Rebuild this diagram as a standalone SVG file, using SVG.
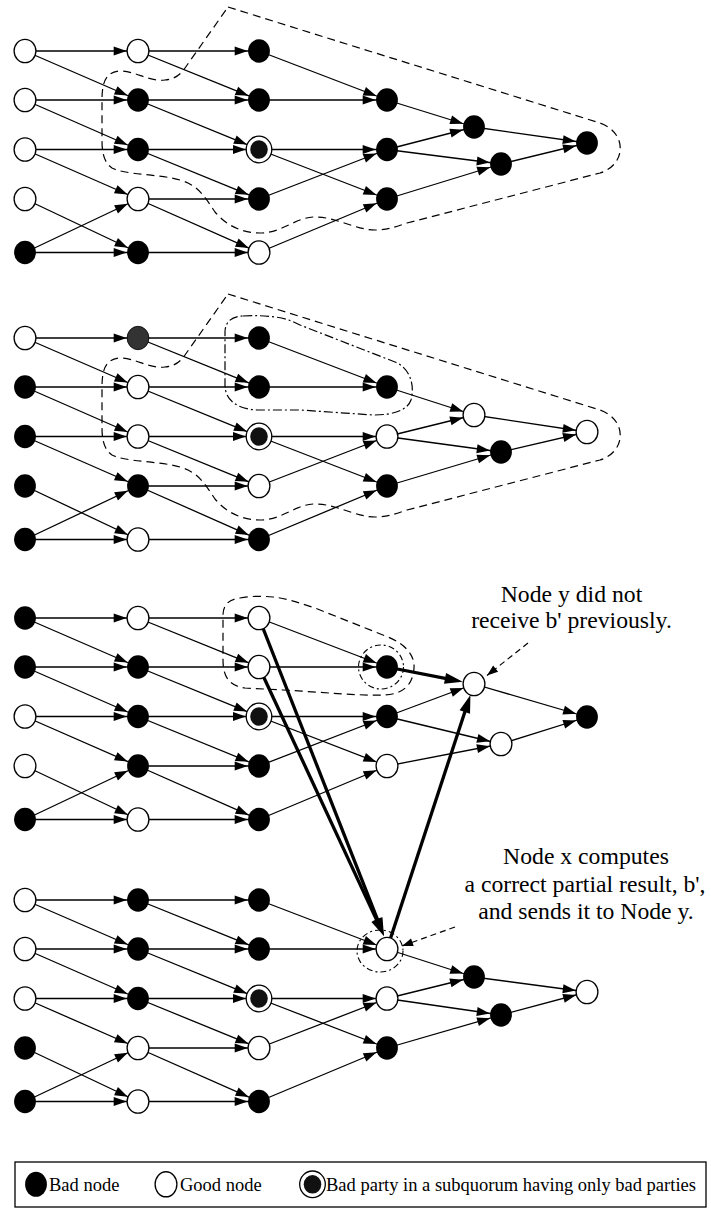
<svg xmlns="http://www.w3.org/2000/svg" width="711" height="1209" viewBox="0 0 711 1209">
<style>
.e{stroke:#000;stroke-width:1.3;fill:none;marker-end:url(#ah)}
.e .ed{marker-end:url(#ahd)}
.t{stroke:#000;stroke-width:3.3;fill:none;marker-end:url(#aht)}
.dash{stroke:#000;stroke-width:1.2;fill:none;stroke-dasharray:8 5}
.dd{stroke:#000;stroke-width:1.2;fill:none;stroke-dasharray:9 3 2 3}
.ring{stroke:#000;stroke-width:1.1;fill:none;stroke-dasharray:6 3 2 3}
.note{stroke:#000;stroke-width:1.2;fill:none;stroke-dasharray:6 4;marker-end:url(#ahn)}
text{font-family:"Liberation Serif","Times New Roman",serif;fill:#000}
.ann{font-size:23.7px;text-anchor:middle}
.leg{font-size:18.5px}
</style>
<defs>
  <marker id="ah" markerUnits="userSpaceOnUse" markerWidth="40" markerHeight="12" refX="24.3" refY="4.5" orient="auto" overflow="visible"><path d="M0,0 L13,4.5 L0,9 Z" fill="#000"/></marker>
  <marker id="ahd" markerUnits="userSpaceOnUse" markerWidth="40" markerHeight="12" refX="26" refY="4.5" orient="auto" overflow="visible"><path d="M0,0 L13,4.5 L0,9 Z" fill="#000"/></marker>
  <marker id="aht" markerUnits="userSpaceOnUse" markerWidth="20" markerHeight="12" refX="8" refY="5.5" orient="auto" overflow="visible"><path d="M0,0 L18,5.5 L0,11 Z" fill="#000"/></marker>
  <marker id="ahn" markerUnits="userSpaceOnUse" markerWidth="12" markerHeight="10" refX="11" refY="4" orient="auto" overflow="visible"><path d="M0,0 L11,4 L0,8 Z" fill="#000"/></marker>
  <ellipse id="nb" rx="10.9" ry="11.7" fill="#000"/>
  <ellipse id="nw" rx="10.9" ry="11.7" fill="#fff" stroke="#000" stroke-width="1.3"/>
  <ellipse id="ng" rx="10.9" ry="11.7" fill="#333" stroke="#000" stroke-width="0.8"/>
  <g id="nd"><ellipse rx="12.8" ry="13.3" fill="#fff" stroke="#000" stroke-width="1.3"/><ellipse rx="8.8" ry="9.3" fill="#111"/></g>
</defs>
<rect width="711" height="1209" fill="#fff"/>

<!-- subquorum outlines -->
<g id="regions">
  <path id="region-1" class="dash" d="M228,7 L600,123 C628,133 626,165 600,173 L407,223 C395,227 388,230 375,230 C355,230 335,216 313,217 C295,218 282,233 260,233 C240,233 225,224 215,212 C205,197 198,185 180,180 C160,174 125,175 112,168 C103,162 102,150 102,140 L102,100 C102,78 108,72 120,71 C135,71 150,82 165,80 C175,79 180,75 185,68 Z"/>
  <path id="region-2" class="dash" transform="translate(0,287)" d="M228,7 L600,123 C628,133 626,165 600,173 L407,223 C395,227 388,230 375,230 C355,230 335,216 313,217 C295,218 282,233 260,233 C240,233 225,224 215,212 C205,197 198,185 180,180 C160,174 125,175 112,168 C103,162 102,150 102,140 L102,100 C102,78 108,72 120,71 C135,71 150,82 165,80 C175,79 180,75 185,68 Z"/>
  <path id="region-2b" class="dd" d="M243,316 C255,315 265,316 275,317 C285,318 292,321 300,325 L395,362 C410,368 415,385 411,400 C407,411 392,415 373,415 L300,410 L257,410 C237,409 225,400 225,385 L225,332 C225,322 232,316 243,316 Z"/>
  <path id="region-3" class="dash" d="M240,598 C250,596 262,596 273,597 C285,598 300,603 315,608 L388,637 C405,644 415,655 414,668 C413,684 404,694 385,695 C360,696 320,692 283,690 L245,688 C230,686 223,678 223,660 L223,615 C223,604 230,599 240,598 Z"/>
  <ellipse id="ring-3" class="ring" cx="381" cy="667" rx="22.5" ry="22"/>
  <ellipse id="ring-x" class="ring" cx="380" cy="951" rx="23" ry="21"/>
</g>

<g id="connectors">
  <g id="edges-1" class="e" transform="translate(0,51)">
    <line x1="25" y1="0" x2="138" y2="0"/>
    <line x1="25" y1="0" x2="138" y2="49"/>
    <line x1="25" y1="49" x2="138" y2="49"/>
    <line x1="25" y1="49" x2="138" y2="98.5"/>
    <line x1="25" y1="98.5" x2="138" y2="98.5"/>
    <line x1="25" y1="98.5" x2="138" y2="148"/>
    <line x1="25" y1="148" x2="138" y2="201.5"/>
    <line x1="25" y1="201.5" x2="138" y2="148"/>
    <line x1="25" y1="201.5" x2="138" y2="201.5"/>
    <line x1="138" y1="0" x2="259" y2="0"/>
    <line x1="138" y1="0" x2="259" y2="49"/>
    <line x1="138" y1="49" x2="259" y2="49"/>
    <line class="ed" x1="138" y1="49" x2="259" y2="98.5"/>
    <line class="ed" x1="138" y1="98.5" x2="259" y2="98.5"/>
    <line x1="138" y1="98.5" x2="259" y2="148"/>
    <line x1="138" y1="148" x2="259" y2="148"/>
    <line x1="138" y1="148" x2="259" y2="201.5"/>
    <line x1="138" y1="201.5" x2="259" y2="201.5"/>
    <line x1="259" y1="0" x2="387" y2="49"/>
    <line x1="259" y1="49" x2="387" y2="49"/>
    <line x1="259" y1="98.5" x2="387" y2="98.5"/>
    <line x1="259" y1="98.5" x2="387" y2="148"/>
    <line x1="259" y1="148" x2="387" y2="98.5"/>
    <line x1="259" y1="201.5" x2="387" y2="148"/>
    <line x1="387" y1="49" x2="474" y2="76"/>
    <line x1="387" y1="98.5" x2="474" y2="76"/>
    <line x1="387" y1="98.5" x2="501" y2="113"/>
    <line x1="387" y1="148" x2="501" y2="113"/>
    <line x1="474" y1="76" x2="587" y2="92"/>
    <line x1="501" y1="113" x2="587" y2="92"/>
  </g>
  <g id="edges-2" class="e" transform="translate(0,338)">
    <line x1="25" y1="0" x2="138" y2="0"/>
    <line x1="25" y1="0" x2="138" y2="49"/>
    <line x1="25" y1="49" x2="138" y2="49"/>
    <line x1="25" y1="49" x2="138" y2="98.5"/>
    <line x1="25" y1="98.5" x2="138" y2="98.5"/>
    <line x1="25" y1="98.5" x2="138" y2="148"/>
    <line x1="25" y1="148" x2="138" y2="201.5"/>
    <line x1="25" y1="201.5" x2="138" y2="148"/>
    <line x1="25" y1="201.5" x2="138" y2="201.5"/>
    <line x1="138" y1="0" x2="259" y2="0"/>
    <line x1="138" y1="0" x2="259" y2="49"/>
    <line x1="138" y1="49" x2="259" y2="49"/>
    <line class="ed" x1="138" y1="49" x2="259" y2="98.5"/>
    <line class="ed" x1="138" y1="98.5" x2="259" y2="98.5"/>
    <line x1="138" y1="98.5" x2="259" y2="148"/>
    <line x1="138" y1="148" x2="259" y2="148"/>
    <line x1="138" y1="148" x2="259" y2="201.5"/>
    <line x1="138" y1="201.5" x2="259" y2="201.5"/>
    <line x1="259" y1="0" x2="387" y2="49"/>
    <line x1="259" y1="49" x2="387" y2="49"/>
    <line x1="259" y1="98.5" x2="387" y2="98.5"/>
    <line x1="259" y1="98.5" x2="387" y2="148"/>
    <line x1="259" y1="148" x2="387" y2="98.5"/>
    <line x1="259" y1="201.5" x2="387" y2="148"/>
    <line x1="387" y1="49" x2="474" y2="77"/>
    <line x1="387" y1="98.5" x2="474" y2="77"/>
    <line x1="387" y1="98.5" x2="501" y2="114"/>
    <line x1="387" y1="148" x2="501" y2="114"/>
    <line x1="474" y1="77" x2="587" y2="94"/>
    <line x1="501" y1="114" x2="587" y2="94"/>
  </g>
  <g id="edges-3" class="e" transform="translate(0,618)">
    <line x1="25" y1="0" x2="138" y2="0"/>
    <line x1="25" y1="0" x2="138" y2="49"/>
    <line x1="25" y1="49" x2="138" y2="49"/>
    <line x1="25" y1="49" x2="138" y2="98.5"/>
    <line x1="25" y1="98.5" x2="138" y2="98.5"/>
    <line x1="25" y1="98.5" x2="138" y2="148"/>
    <line x1="25" y1="148" x2="138" y2="201.5"/>
    <line x1="25" y1="201.5" x2="138" y2="148"/>
    <line x1="25" y1="201.5" x2="138" y2="201.5"/>
    <line x1="138" y1="0" x2="259" y2="0"/>
    <line x1="138" y1="0" x2="259" y2="49"/>
    <line x1="138" y1="49" x2="259" y2="49"/>
    <line class="ed" x1="138" y1="49" x2="259" y2="98.5"/>
    <line class="ed" x1="138" y1="98.5" x2="259" y2="98.5"/>
    <line x1="138" y1="98.5" x2="259" y2="148"/>
    <line x1="138" y1="148" x2="259" y2="148"/>
    <line x1="138" y1="148" x2="259" y2="201.5"/>
    <line x1="138" y1="201.5" x2="259" y2="201.5"/>
    <line x1="259" y1="0" x2="387" y2="49"/>
    <line x1="259" y1="49" x2="387" y2="49"/>
    <line x1="259" y1="98.5" x2="387" y2="98.5"/>
    <line x1="259" y1="98.5" x2="387" y2="148"/>
    <line x1="259" y1="148" x2="387" y2="98.5"/>
    <line x1="259" y1="201.5" x2="387" y2="148"/>
    <line x1="387" y1="98.5" x2="474" y2="66"/>
    <line x1="387" y1="98.5" x2="501" y2="126"/>
    <line x1="387" y1="148" x2="501" y2="126"/>
    <line x1="474" y1="66" x2="587" y2="99"/>
    <line x1="501" y1="126" x2="587" y2="99"/>
  </g>
  <g id="edges-4" class="e" transform="translate(0,900)">
    <line x1="25" y1="0" x2="138" y2="0"/>
    <line x1="25" y1="0" x2="138" y2="49"/>
    <line x1="25" y1="49" x2="138" y2="49"/>
    <line x1="25" y1="49" x2="138" y2="98.5"/>
    <line x1="25" y1="98.5" x2="138" y2="98.5"/>
    <line x1="25" y1="98.5" x2="138" y2="148"/>
    <line x1="25" y1="148" x2="138" y2="201.5"/>
    <line x1="25" y1="201.5" x2="138" y2="148"/>
    <line x1="25" y1="201.5" x2="138" y2="201.5"/>
    <line x1="138" y1="0" x2="259" y2="0"/>
    <line x1="138" y1="0" x2="259" y2="49"/>
    <line x1="138" y1="49" x2="259" y2="49"/>
    <line class="ed" x1="138" y1="49" x2="259" y2="98.5"/>
    <line class="ed" x1="138" y1="98.5" x2="259" y2="98.5"/>
    <line x1="138" y1="98.5" x2="259" y2="148"/>
    <line x1="138" y1="148" x2="259" y2="148"/>
    <line x1="138" y1="148" x2="259" y2="201.5"/>
    <line x1="138" y1="201.5" x2="259" y2="201.5"/>
    <line x1="259" y1="0" x2="387" y2="49"/>
    <line x1="259" y1="49" x2="387" y2="49"/>
    <line x1="259" y1="98.5" x2="387" y2="98.5"/>
    <line x1="259" y1="98.5" x2="387" y2="148"/>
    <line x1="259" y1="148" x2="387" y2="98.5"/>
    <line x1="259" y1="201.5" x2="387" y2="148"/>
    <line x1="387" y1="49" x2="474" y2="77"/>
    <line x1="387" y1="98.5" x2="474" y2="77"/>
    <line x1="387" y1="98.5" x2="501" y2="115"/>
    <line x1="387" y1="148" x2="501" y2="115"/>
    <line x1="474" y1="77" x2="587" y2="92"/>
    <line x1="501" y1="115" x2="587" y2="92"/>
  </g>
  <!-- partial result b' travelling to node x and on to node y -->
  <g id="bold-edges" class="t">
    <line x1="387" y1="667" x2="452.9" y2="679.9"/>
    <line x1="259" y1="618" x2="380.3" y2="926.7"/>
    <line x1="259" y1="667" x2="379.8" y2="926.9"/>
    <line x1="387" y1="949" x2="467.3" y2="704.4"/>
  </g>
  <g id="callouts" class="note">
    <line x1="528" y1="643" x2="487" y2="675.5"/>
    <line x1="455" y1="927" x2="402" y2="946"/>
  </g>
</g>

<g id="nodes">
  <g id="panel-1" transform="translate(0,51)">
    <g id="p1-a0"><use href="#nw" x="25" y="0"/></g>
    <g id="p1-a1"><use href="#nw" x="25" y="49"/></g>
    <g id="p1-a2"><use href="#nw" x="25" y="98.5"/></g>
    <g id="p1-a3"><use href="#nw" x="25" y="148"/></g>
    <g id="p1-a4"><use href="#nb" x="25" y="201.5"/></g>
    <g id="p1-b0"><use href="#nw" x="138" y="0"/></g>
    <g id="p1-b1"><use href="#nb" x="138" y="49"/></g>
    <g id="p1-b2"><use href="#nb" x="138" y="98.5"/></g>
    <g id="p1-b3"><use href="#nw" x="138" y="148"/></g>
    <g id="p1-b4"><use href="#nb" x="138" y="201.5"/></g>
    <g id="p1-c0"><use href="#nb" x="259" y="0"/></g>
    <g id="p1-c1"><use href="#nb" x="259" y="49"/></g>
    <g id="p1-c2"><use href="#nd" x="259" y="98.5"/></g>
    <g id="p1-c3"><use href="#nb" x="259" y="148"/></g>
    <g id="p1-c4"><use href="#nw" x="259" y="201.5"/></g>
    <g id="p1-d1"><use href="#nb" x="387" y="49"/></g>
    <g id="p1-d2"><use href="#nb" x="387" y="98.5"/></g>
    <g id="p1-d3"><use href="#nb" x="387" y="148"/></g>
    <g id="p1-e0"><use href="#nb" x="474" y="76"/></g>
    <g id="p1-e1"><use href="#nb" x="501" y="113"/></g>
    <g id="p1-f"><use href="#nb" x="587" y="92"/></g>
  </g>
  <g id="panel-2" transform="translate(0,338)">
    <g id="p2-a0"><use href="#nw" x="25" y="0"/></g>
    <g id="p2-a1"><use href="#nb" x="25" y="49"/></g>
    <g id="p2-a2"><use href="#nb" x="25" y="98.5"/></g>
    <g id="p2-a3"><use href="#nb" x="25" y="148"/></g>
    <g id="p2-a4"><use href="#nb" x="25" y="201.5"/></g>
    <g id="p2-b0"><use href="#ng" x="138" y="0"/></g>
    <g id="p2-b1"><use href="#nw" x="138" y="49"/></g>
    <g id="p2-b2"><use href="#nw" x="138" y="98.5"/></g>
    <g id="p2-b3"><use href="#nb" x="138" y="148"/></g>
    <g id="p2-b4"><use href="#nw" x="138" y="201.5"/></g>
    <g id="p2-c0"><use href="#nb" x="259" y="0"/></g>
    <g id="p2-c1"><use href="#nb" x="259" y="49"/></g>
    <g id="p2-c2"><use href="#nd" x="259" y="98.5"/></g>
    <g id="p2-c3"><use href="#nw" x="259" y="148"/></g>
    <g id="p2-c4"><use href="#nb" x="259" y="201.5"/></g>
    <g id="p2-d1"><use href="#nb" x="387" y="49"/></g>
    <g id="p2-d2"><use href="#nw" x="387" y="98.5"/></g>
    <g id="p2-d3"><use href="#nb" x="387" y="148"/></g>
    <g id="p2-e0"><use href="#nw" x="474" y="77"/></g>
    <g id="p2-e1"><use href="#nb" x="501" y="114"/></g>
    <g id="p2-f"><use href="#nw" x="587" y="94"/></g>
  </g>
  <g id="panel-3" transform="translate(0,618)">
    <g id="p3-a0"><use href="#nb" x="25" y="0"/></g>
    <g id="p3-a1"><use href="#nb" x="25" y="49"/></g>
    <g id="p3-a2"><use href="#nw" x="25" y="98.5"/></g>
    <g id="p3-a3"><use href="#nw" x="25" y="148"/></g>
    <g id="p3-a4"><use href="#nb" x="25" y="201.5"/></g>
    <g id="p3-b0"><use href="#nw" x="138" y="0"/></g>
    <g id="p3-b1"><use href="#nb" x="138" y="49"/></g>
    <g id="p3-b2"><use href="#nb" x="138" y="98.5"/></g>
    <g id="p3-b3"><use href="#nb" x="138" y="148"/></g>
    <g id="p3-b4"><use href="#nw" x="138" y="201.5"/></g>
    <g id="p3-c0"><use href="#nw" x="259" y="0"/></g>
    <g id="p3-c1"><use href="#nw" x="259" y="49"/></g>
    <g id="p3-c2"><use href="#nd" x="259" y="98.5"/></g>
    <g id="p3-c3"><use href="#nb" x="259" y="148"/></g>
    <g id="p3-c4"><use href="#nb" x="259" y="201.5"/></g>
    <g id="p3-d1"><use href="#nb" x="387" y="49"/></g>
    <g id="p3-d2"><use href="#nb" x="387" y="98.5"/></g>
    <g id="p3-d3"><use href="#nw" x="387" y="148"/></g>
    <g id="node-y"><use href="#nw" x="474" y="66"/></g>
    <g id="p3-e1"><use href="#nw" x="501" y="126"/></g>
    <g id="p3-f"><use href="#nb" x="587" y="99"/></g>
  </g>
  <g id="panel-4" transform="translate(0,900)">
    <g id="p4-a0"><use href="#nw" x="25" y="0"/></g>
    <g id="p4-a1"><use href="#nw" x="25" y="49"/></g>
    <g id="p4-a2"><use href="#nw" x="25" y="98.5"/></g>
    <g id="p4-a3"><use href="#nb" x="25" y="148"/></g>
    <g id="p4-a4"><use href="#nb" x="25" y="201.5"/></g>
    <g id="p4-b0"><use href="#nb" x="138" y="0"/></g>
    <g id="p4-b1"><use href="#nb" x="138" y="49"/></g>
    <g id="p4-b2"><use href="#nb" x="138" y="98.5"/></g>
    <g id="p4-b3"><use href="#nw" x="138" y="148"/></g>
    <g id="p4-b4"><use href="#nw" x="138" y="201.5"/></g>
    <g id="p4-c0"><use href="#nb" x="259" y="0"/></g>
    <g id="p4-c1"><use href="#nb" x="259" y="49"/></g>
    <g id="p4-c2"><use href="#nd" x="259" y="98.5"/></g>
    <g id="p4-c3"><use href="#nw" x="259" y="148"/></g>
    <g id="p4-c4"><use href="#nb" x="259" y="201.5"/></g>
    <g id="node-x"><use href="#nw" x="387" y="49"/></g>
    <g id="p4-d2"><use href="#nw" x="387" y="98.5"/></g>
    <g id="p4-d3"><use href="#nb" x="387" y="148"/></g>
    <g id="p4-e0"><use href="#nb" x="474" y="77"/></g>
    <g id="p4-e1"><use href="#nb" x="501" y="115"/></g>
    <g id="p4-f"><use href="#nw" x="587" y="92"/></g>
  </g>
</g>

<g id="notes">
  <text class="ann" x="571.5" y="601.7">Node y did not</text>
  <text class="ann" x="571.5" y="628">receive b' previously.</text>
  <text class="ann" x="586" y="864">Node x computes</text>
  <text class="ann" x="585" y="892">a correct partial result, b',</text>
  <text class="ann" x="586" y="919">and sends it to Node y.</text>
</g>

<g id="legend">
  <rect x="15" y="1162" width="691" height="45" fill="#fff" stroke="#000" stroke-width="1.3"/>
  <use href="#nb" x="36" y="1184.3" transform="translate(36,1184.3) scale(1,1.07) translate(-36,-1184.3)"/>
  <text class="leg" x="49" y="1190.7">Bad node</text>
  <use href="#nw" x="166" y="1184.3" transform="translate(166,1184.3) scale(1,1.07) translate(-166,-1184.3)"/>
  <text class="leg" x="180" y="1190.7">Good node</text>
  <use href="#nd" x="312.5" y="1184.3"/>
  <text class="leg" x="326" y="1190.7">Bad party in a subquorum having only bad parties</text>
</g>
</svg>
